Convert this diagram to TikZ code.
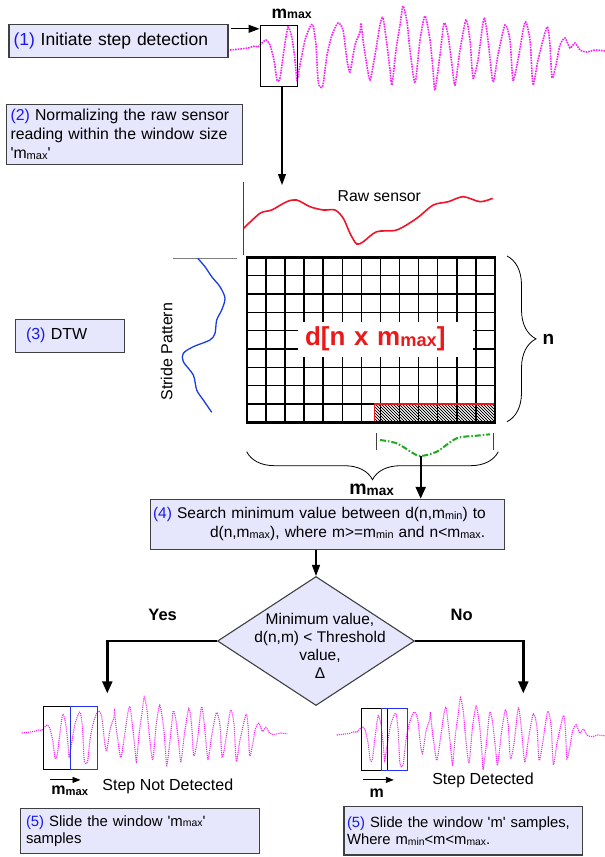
\documentclass[tikz,border=0pt]{standalone}
\usepackage{fontspec}
\setmainfont{Liberation Sans}[Ligatures=TeXOff]
\usetikzlibrary{arrows.meta}
\usetikzlibrary{positioning}
\usetikzlibrary{shapes.geometric}
\usetikzlibrary{patterns}
\usetikzlibrary{decorations.pathreplacing}
\hyphenpenalty=10000

\definecolor{boxfill}{RGB}{230,230,252}
\definecolor{boxborder}{RGB}{64,64,64}
\definecolor{stepblue}{RGB}{25,25,235}
\definecolor{wavemag}{RGB}{250,30,250}
\definecolor{rawred}{RGB}{240,20,40}
\definecolor{dtwred}{RGB}{235,25,25}
\definecolor{stridecol}{RGB}{25,60,230}
\definecolor{warpgreen}{RGB}{30,170,30}
\definecolor{winblue}{RGB}{35,50,240}

\newcommand{\idx}[1]{\raisebox{-0.6pt}{\scalebox{0.7}{#1}}}
\newcommand{\stepno}[1]{\textcolor{stepblue}{(#1)}}
% the accelerometer trace, baseline at y=0, 375 units long
\newcommand{\sensorwave}[1]{%
  \draw[wave=#1] plot[smooth,tension=0.4] coordinates {
    (0,0) (10,-1) (18,-2) (25,-4) (28,-3) (32,-7) (36,-10) (40,-5) (44,10)
    (47,30) (50,28) (54,0) (58,-23) (62,-12) (65,10) (67,30) (70,15) (75,-10)
    (80,-23) (83,-25) (86,-5) (88,30) (90,37) (93,35) (97,5) (102,-15)
    (108,-27) (113,-20) (117,10) (120,22) (125,-5) (130,-18) (131,-27)
    (133,-10) (136,10) (140,30) (145,5) (150,-25) (153,-32) (157,-5) (160,20)
    (162,35) (166,0) (170,-25) (173,-44) (177,-28) (180,0) (185,33) (190,-10)
    (195,-34) (200,-10) (203,20) (205,40) (210,5) (214,-27) (218,-15) (222,15)
    (225,35) (230,0) (236,-30) (240,-10) (243,28) (248,10) (254,-32) (258,-10)
    (263,32) (268,5) (275,-25) (280,-10) (283,30) (288,10) (295,-28) (300,-10)
    (303,35) (308,10) (317,-23) (320,-5) (322,28) (326,15) (330,-5) (335,-12)
    (340,-2) (345,-7) (350,0) (357,2) (365,0) (375,1)};}

\tikzset{
  % process step
  stepbox/.style={
    rectangle,
    draw=boxborder,
    fill=boxfill,
    line width=1.1pt,
    align=left,
    inner ysep=0pt
  },
  % yes / no test
  decision/.style={
    diamond,
    draw=boxborder,
    fill=boxfill,
    line width=1.1pt,
    minimum width=197pt,
    minimum height=129pt,
    inner sep=0pt
  },
  winbox/.style={
    draw=black,
    line width=1.1pt,
    inner sep=0pt
  },
  wave/.style={
    draw=wavemag,
    line width=#1,
    densely dotted
  },
  thinarrow/.style={
    draw=black,
    line width=1.1pt,
    -{Triangle[length=11pt,width=8pt]}
  },
  thickarrow/.style={
    draw=black,
    line width=2.4pt,
    -{Triangle[length=12pt,width=10pt]}
  },
  smallarrow/.style={
    draw=black,
    line width=0.9pt,
    -{Triangle[length=8pt,width=6pt]}
  },
  gridline/.style={
    draw=black,
    line width=1.4pt
  },
  bracket/.style={
    draw=black,
    line width=0.8pt,
    decorate,
    decoration={brace,amplitude=#1}
  },
  boldlabel/.style={
    inner sep=0pt,
    font=\fontsize{#1}{#1}\selectfont\bfseries
  },
  plainlabel/.style={
    inner sep=0pt,
    font=\fontsize{15.8}{18}\selectfont
  }
}

\begin{document}
\begin{tikzpicture}[x=1pt,y=-1pt]
  \useasboundingbox (0,0) rectangle (605,857);

  % (1) raw trace with the first window
  \begin{scope}[shift={(230,50)}]
    \sensorwave{1.6pt}
  \end{scope}
  \node[stepbox, minimum width=219pt, minimum height=33.3pt, text width=210pt,
    inner xsep=4.3pt, font=\fontsize{17.5}{20}\selectfont] (initbox) at (118.5,40.7)
    {\stepno{1} Initiate step detection};
  \node[winbox, minimum width=37.7pt, minimum height=61.7pt] (topwin) at (278.9,55.9) {};
  \node[boldlabel=17.5] (topmax) at (291.7,14) {m\idx{max}};
  \draw[thinarrow] ([xshift=2pt,yshift=-5.3pt]initbox.north east)
    -- ([yshift=-4.3pt]topwin.north west);

  % (2)
  \node[stepbox, minimum width=235.6pt, minimum height=59.7pt, text width=228pt,
    inner xsep=3.8pt, font=\fontsize{15.8}{19}\selectfont] (normbox) at (124.5,134.2)
    {\stepno{2} Normalizing the raw sensor\\reading within the window size\\'m\idx{max}'};
  \coordinate (rawtip) at (282,185);
  \draw[thinarrow] (rawtip |- topwin.south) -- (rawtip);

  % (3) DTW matrix
  \node[stepbox, minimum width=105.4pt, minimum height=33.3pt, text width=88pt,
    inner xsep=10.8pt, font=\fontsize{16}{18}\selectfont] (dtwbox) at (70,335.7)
    {\stepno{3} DTW};
  \draw[draw=boxborder, line width=0.8pt] (243.7,181.7) -- (243.7,255);
  \draw[draw=gray, line width=0.8pt] (173.3,258.3) -- (236.7,258.3);
  \node[plainlabel] (rawlabel) at (379.3,196) {Raw sensor};
  \draw[rawred, line width=1.6pt] plot[smooth] coordinates {
    (243.7,228.3) (260,213.3) (271.7,210) (286.7,201.7) (296.7,200) (310,206.7)
    (323.3,210) (335,210) (343.3,218.3) (350,233.3) (356.7,244) (363.3,241.7)
    (376.7,231.7) (396.7,230) (416.7,218.3) (433.3,205) (448.3,201.7)
    (463.3,196.7) (480,201.7) (492.7,198.3)};
  \draw[stridecol, line width=1.3pt] plot[smooth] coordinates {
    (197.7,258.3) (205,266.7) (211.7,276.7) (220,286.7) (225,298.3) (221.7,310)
    (216.7,320) (215,333.3) (210,340) (193.3,346.7) (183.3,353.3) (183.3,361.7)
    (193.3,375) (196.7,390) (203.3,400) (211.7,412.3)};
  \node[plainlabel, font=\fontsize{16}{18}\selectfont, rotate=90] (stridelabel)
    at (166.7,351.7) {Stride Pattern};

  \coordinate (gridNW) at (246.7,257.3);
  \coordinate (gridSE) at (495,422.3);
  \fill[pattern=north west lines] (246.7+6.7*19.1,404) rectangle (gridSE);
  \fill[pattern=north west lines, xshift=1.2pt] (246.7+6.7*19.1,404) rectangle (493.8,422.3);
  \foreach \c in {1,...,12}
    \draw[gridline] (246.7+\c*19.1,257.3) -- ++(0,165);
  \foreach \r in {1,...,8}
    \draw[gridline] (246.7,257.3+\r*18.33) -- ++(248.3,0);
  \draw[dtwred, line width=1.2pt] (246.7+6.7*19.1,404) rectangle (495,422.3);
  \draw[line width=2.4pt] (gridNW) rectangle (gridSE);
  \node[fill=white, minimum width=174.4pt, minimum height=35pt, text width=161pt,
    inner xsep=6.7pt, align=left, text=dtwred,
    font=\fontsize{26}{28}\selectfont\bfseries] (costlabel) at (385.5,339.2)
    {d[n x m\idx{max}]};

  \draw[bracket=29pt] (507,256) -- (507,421.7);
  \node[boldlabel=19] (nlabel) at (548.3,339) {n};
  \draw[bracket=28pt] (498.3,451.7) -- (246.7,451.7);
  \node[boldlabel=19.5] (mmaxlabel) at (371.7,490) {m\idx{max}};

  % warping path over the last row
  \draw[draw=boxborder, line width=0.9pt] (376,433.3) -- (376,450);
  \draw[draw=boxborder, line width=0.9pt] (493.3,433.3) -- (493.3,450);
  \draw[warpgreen, line width=2pt, dash pattern=on 6pt off 2pt on 1.5pt off 2pt]
    plot[smooth] coordinates {(380,440) (396.7,443.3) (413.3,453.3) (420.7,456)
    (436.7,451.7) (456.7,438.3) (476.7,435.7) (490,434.3)};
  \coordinate (warpmin) at (420.7,456);

  % (4)
  \node[stepbox, minimum width=353.6pt, minimum height=50pt, text width=349pt,
    inner xsep=2pt, font=\fontsize{15.5}{18.7}\selectfont] (searchbox) at (327.5,524.3)
    {\stepno{4} Search minimum value between d(n,m\idx{min}) to\\
     \hspace*{57pt}d(n,m\idx{max}), where m>=m\idx{min} and n<m\idx{max}.};
  \draw[thickarrow] (warpmin) -- (warpmin |- searchbox.north);

  % threshold test
  \node[decision] (decision) at (316,641) {};
  \node[align=center, inner sep=0pt, font=\fontsize{15.5}{18}\selectfont] (testtext)
    at (320,646) {Minimum value,\\d(n,m) < Threshold\\value,\\Δ};
  \draw[thinarrow] (searchbox.south -| decision.north) -- (decision.north);
  \node[boldlabel=16.5] (yeslabel) at (162.7,615) {Yes};
  \node[boldlabel=16.5] (nolabel) at (461.7,615) {No};
  \coordinate (yesend) at (107.3,693.3);
  \coordinate (noend) at (523.3,693.3);
  \draw[thickarrow] (decision.west) -| (yesend);
  \draw[thickarrow] (decision.east) -| (noend);

  % yes: step not detected
  \begin{scope}[shift={(21.7,733)}, xscale=0.708, yscale=0.82]
    \sensorwave{1.1pt}
  \end{scope}
  \node[winbox, minimum width=26.7pt, minimum height=62.3pt] (leftwinold) at (56.7,737.9) {};
  \node[winbox, draw=winblue, minimum width=27.3pt, minimum height=62.3pt] (leftwinnew) at (83.7,737.9) {};
  \draw[smallarrow] ([xshift=6.7pt,yshift=-10.3pt]leftwinold.south west) -- ++(31,0);
  \node[boldlabel=16] (leftshift) at (69.8,791) {m\idx{max}};
  \node[plainlabel, font=\fontsize{16}{18}\selectfont] (notdetected) at (167.8,786) {Step Not Detected};
  \node[stepbox, minimum width=238.6pt, minimum height=45pt, text width=228pt,
    inner xsep=5.3pt, font=\fontsize{14.9}{16.8}\selectfont] (slidemaxbox) at (140,830.8)
    {\stepno{5} Slide the window 'm\idx{max}'\\samples};

  % no: step detected
  \begin{scope}[shift={(336.7,735)}, xscale=0.715, yscale=0.85]
    \sensorwave{1.1pt}
  \end{scope}
  \node[winbox, minimum width=26.3pt, minimum height=62.7pt] (rightwinold) at (374.2,739.4) {};
  \node[winbox, draw=winblue, minimum width=26.7pt, minimum height=62.7pt] (rightwinnew) at (394.4,739.4) {};
  \draw[smallarrow] ([xshift=2.3pt,yshift=-8.6pt]rightwinold.south west) -- ++(31,0);
  \node[boldlabel=16] (rightshift) at (376.7,793) {m};
  \node[plainlabel, font=\fontsize{16}{18}\selectfont] (detected) at (483,780) {Step Detected};
  \node[stepbox, minimum width=238.7pt, minimum height=48.3pt, text width=232.5pt,
    inner xsep=3.1pt, font=\fontsize{14.8}{17.4}\selectfont] (slidembox) at (463.3,830.8)
    {\stepno{5} Slide the window 'm' samples,\\Where m\idx{min}<m<m\idx{max}.};
\end{tikzpicture}
\end{document}
